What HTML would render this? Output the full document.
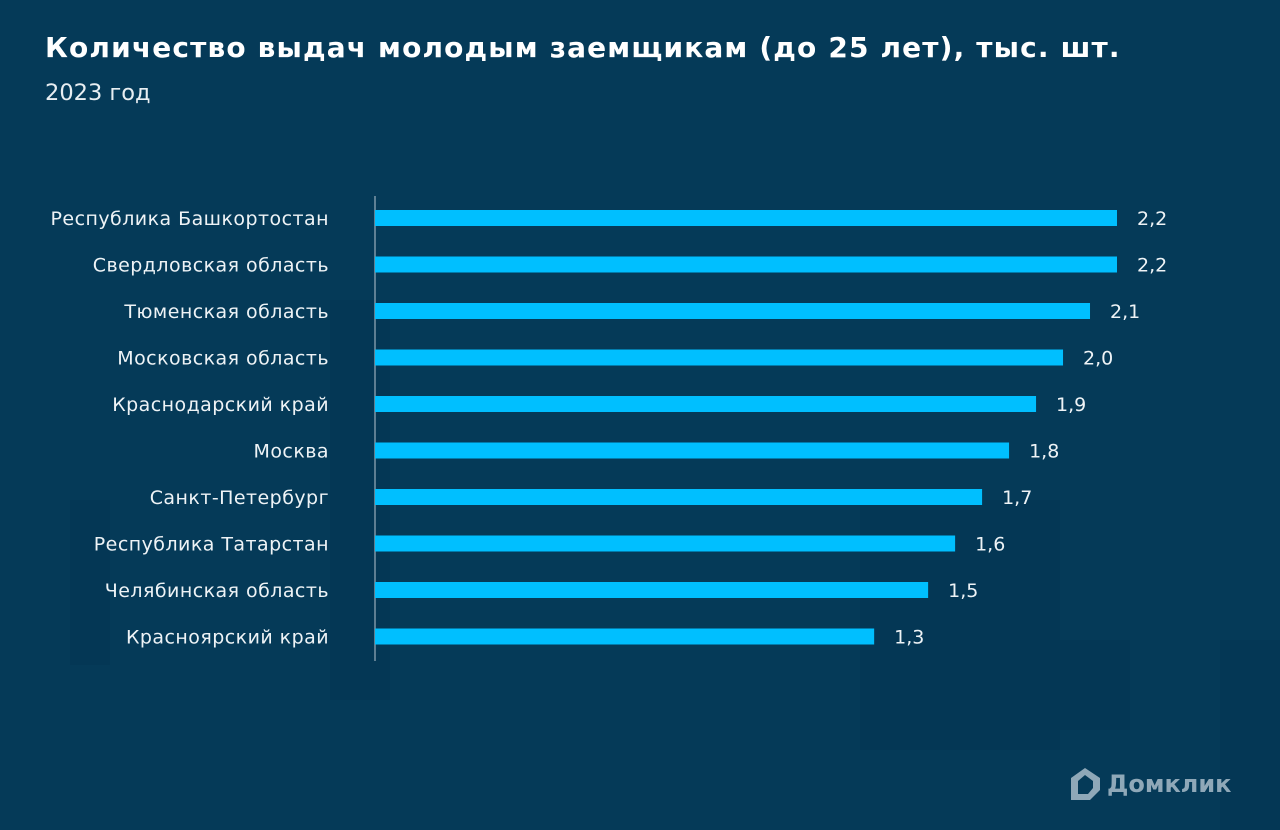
<!DOCTYPE html>
<html><head><meta charset="utf-8"><style>
html,body{margin:0;padding:0}
body{width:1280px;height:828px;background:#053a58;position:relative;overflow:hidden;font-family:"DejaVu Sans",sans-serif;color:#fff}
.bg{position:absolute;background:#03334f;opacity:.35}
h1{position:absolute;left:45px;top:31px;margin:0;font-size:28px;font-weight:bold;letter-spacing:1.15px;white-space:nowrap}
.sub{position:absolute;left:45px;top:80px;font-size:22.5px;color:#e8eef2}
.logo{position:absolute;left:1068px;top:766px;display:flex;align-items:center;color:#8fa8b8;font-weight:bold;font-size:24px}
</style></head><body>
<div class="bg" style="left:70px;top:500px;width:40px;height:165px"></div>
<div class="bg" style="left:330px;top:300px;width:60px;height:400px"></div>
<div class="bg" style="left:860px;top:500px;width:200px;height:250px"></div>
<div class="bg" style="left:1060px;top:640px;width:70px;height:90px"></div>
<div class="bg" style="left:1220px;top:640px;width:60px;height:190px"></div>
<h1>Количество выдач молодым заемщикам (до 25 лет), тыс. шт.</h1>
<div class="sub">2023 год</div>
<svg id="chart" width="1280" height="828" style="position:absolute;left:0;top:0"></svg>
<div class="logo">
<svg width="34" height="36" viewBox="0 0 34 36"><path d="M17 2 L32 12 L32 24 L22 34 L3 34 L3 12 Z M10 15 L10 28 L20 28 L25 22 L25 15 L17 9 Z" fill="#8fa8b8" fill-rule="evenodd"/></svg>
<span style="margin-left:5px">Домклик</span></div>
<script>
const categories=["Республика Башкортостан","Свердловская область","Тюменская область","Московская область","Краснодарский край","Москва","Санкт-Петербург","Республика Татарстан","Челябинская область","Красноярский край"];
const values=[2.2,2.2,2.1,2.0,1.9,1.8,1.7,1.6,1.5,1.3];
const valueLabels=["2,2","2,2","2,1","2,0","1,9","1,8","1,7","1,6","1,5","1,3"];
const NS="http://www.w3.org/2000/svg";
const svg=document.getElementById('chart');
const x0=375,x1=1117,dMin=-0.55,dMax=2.2;
const xs=v=>x0+(v-dMin)/(dMax-dMin)*(x1-x0);
const yTop=218,step=46.5;
const ys=i=>yTop+i*step;
function mk(t,a){const e=document.createElementNS(NS,t);for(const k in a)e.setAttribute(k,a[k]);svg.appendChild(e);return e;}
const ax=mk('line',{x1:375,y1:196,x2:375,y2:661,stroke:'#b9c6cf','stroke-width':1});


categories.forEach((c,i)=>{
 const y=ys(i);
 const r=mk('rect',{x:x0,y:y-8,width:xs(values[i])-x0,height:16,fill:'#00bfff'});
 
 
 const t=mk('text',{x:329,y:y+7,'text-anchor':'end','font-size':19,'letter-spacing':0.45,fill:'#eef3f6','font-family':'DejaVu Sans, sans-serif'});
 t.textContent=c;
 
 
 const v=mk('text',{x:xs(values[i])+20,y:y+7,'font-size':19,fill:'#eef3f6','font-family':'DejaVu Sans, sans-serif'});
 v.textContent=valueLabels[i];
 
 
});
</script>
</body></html>
